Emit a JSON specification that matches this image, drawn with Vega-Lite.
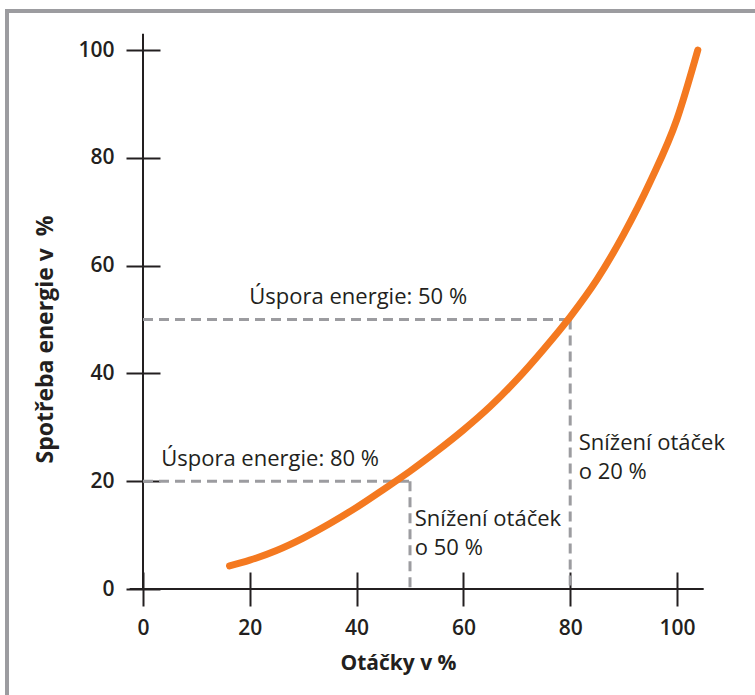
{
  "$schema": "https://vega.github.io/schema/vega-lite/v6.json",
  "autosize": "none",
  "padding": {"left": 7, "top": 11, "right": -3, "bottom": -3},
  "width": 751,
  "height": 687,
  "background": "white",
  "config": {
    "view": {"stroke": "#9c9ca0", "strokeWidth": 4, "fill": "white"},
    "font": "Open Sans",
    "axis": {
      "domain": false,
      "grid": false,
      "tickColor": "#231f20",
      "tickWidth": 2,
      "tickSize": 17,
      "labelColor": "#231f20",
      "labelFont": "Open Sans",
      "labelFontSize": 21,
      "labelFontWeight": 600,
      "titleColor": "#231f20",
      "titleFont": "Open Sans",
      "titleFontSize": 21,
      "titleFontWeight": "bold"
    }
  },
  "datasets": {
    "axislines": [
      {"x": 0, "y": 0, "x2": 0, "y2": 103},
      {"x": -2.5, "y": 0, "x2": 105, "y2": 0}
    ],
    "guides": [
      {"x": 0, "y": 50, "x2": 80, "y2": 50},
      {"x": 80, "y": 50, "x2": 80, "y2": 0},
      {"x": 0, "y": 20, "x2": 50, "y2": 20},
      {"x": 50, "y": 20, "x2": 50, "y2": 0}
    ],
    "curve": [
      {"otacky": 16.2, "spotreba": 4.3},
      {"otacky": 20, "spotreba": 5.35},
      {"otacky": 25, "spotreba": 7.15},
      {"otacky": 30, "spotreba": 9.45},
      {"otacky": 35, "spotreba": 12.15},
      {"otacky": 40, "spotreba": 15.15},
      {"otacky": 45, "spotreba": 18.45},
      {"otacky": 50, "spotreba": 21.85},
      {"otacky": 55, "spotreba": 25.55},
      {"otacky": 60, "spotreba": 29.5},
      {"otacky": 65, "spotreba": 33.85},
      {"otacky": 70, "spotreba": 38.85},
      {"otacky": 75, "spotreba": 44.45},
      {"otacky": 80, "spotreba": 50.5},
      {"otacky": 85, "spotreba": 57.4},
      {"otacky": 90, "spotreba": 65.8},
      {"otacky": 95, "spotreba": 75.6},
      {"otacky": 100, "spotreba": 87.2},
      {"otacky": 103.9, "spotreba": 100}
    ],
    "labelsCenter": [
      {"x": 40.3, "y": 54.2, "text": "Úspora energie: 50 %"},
      {"x": 23.8, "y": 24.1, "text": "Úspora energie: 80 %"}
    ],
    "labelsLeft": [
      {"x": 81.6, "y": 27.1, "text": "Snížení otáček"},
      {"x": 81.6, "y": 21.7, "text": "o 20 %"},
      {"x": 50.9, "y": 13.0, "text": "Snížení otáček"},
      {"x": 50.9, "y": 7.6, "text": "o 50 %"}
    ]
  },
  "resolve": {"axis": {"x": "independent", "y": "independent"}},
  "layer": [
    {
      "data": {"name": "axislines"},
      "mark": {"type": "rule", "color": "#231f20", "strokeWidth": 2},
      "encoding": {
        "x": {
          "field": "x", "type": "quantitative",
          "scale": {"domain": [-25.47, 115.17], "nice": false, "zero": false},
          "axis": {
            "orient": "bottom", "offset": -109, "values": [0, 20, 40, 60, 80, 100],
            "labelPadding": 11,
            "title": "Otáčky v %", "titleX": 391, "titleY": 74, "titleBaseline": "middle"
          }
        },
        "y": {
          "field": "y", "type": "quantitative",
          "scale": {"domain": [-20.22, 107.24], "nice": false, "zero": false},
          "axis": {
            "orient": "left", "offset": -136, "values": [0, 20, 40, 60, 80, 100],
            "labelPadding": 12,
            "title": "Spotřeba energie v\u00a0\u00a0%", "titleX": -98, "titleY": 328,
            "titleAngle": -90, "titleBaseline": "middle", "titleFontSize": 23
          }
        },
        "x2": {"field": "x2"},
        "y2": {"field": "y2"}
      }
    },
    {
      "data": {"name": "guides"},
      "mark": {"type": "rule", "color": "#9c9ca0", "strokeWidth": 3, "strokeDash": [10, 6]},
      "encoding": {
        "x": {
          "field": "x", "type": "quantitative",
          "axis": {"orient": "top", "offset": -578, "values": [0, 20, 40, 60, 80, 100], "labels": false, "title": null}
        },
        "y": {
          "field": "y", "type": "quantitative",
          "axis": {"orient": "right", "offset": -615, "values": [0, 20, 40, 60, 80, 100], "labels": false, "title": null}
        },
        "x2": {"field": "x2"},
        "y2": {"field": "y2"}
      }
    },
    {
      "data": {"name": "curve"},
      "mark": {"type": "line", "color": "#f47920", "strokeWidth": 7, "strokeCap": "round", "interpolate": "monotone"},
      "encoding": {
        "x": {"field": "otacky", "type": "quantitative", "axis": null},
        "y": {"field": "spotreba", "type": "quantitative", "axis": null}
      }
    },
    {
      "data": {"name": "labelsCenter"},
      "mark": {"type": "text", "font": "Open Sans", "fontSize": 22, "color": "#231f20", "baseline": "middle", "align": "center"},
      "encoding": {
        "x": {"field": "x", "type": "quantitative", "axis": null},
        "y": {"field": "y", "type": "quantitative", "axis": null},
        "text": {"field": "text"}
      }
    },
    {
      "data": {"name": "labelsLeft"},
      "mark": {"type": "text", "font": "Open Sans", "fontSize": 22, "color": "#231f20", "baseline": "middle", "align": "left"},
      "encoding": {
        "x": {"field": "x", "type": "quantitative", "axis": null},
        "y": {"field": "y", "type": "quantitative", "axis": null},
        "text": {"field": "text"}
      }
    }
  ]
}
